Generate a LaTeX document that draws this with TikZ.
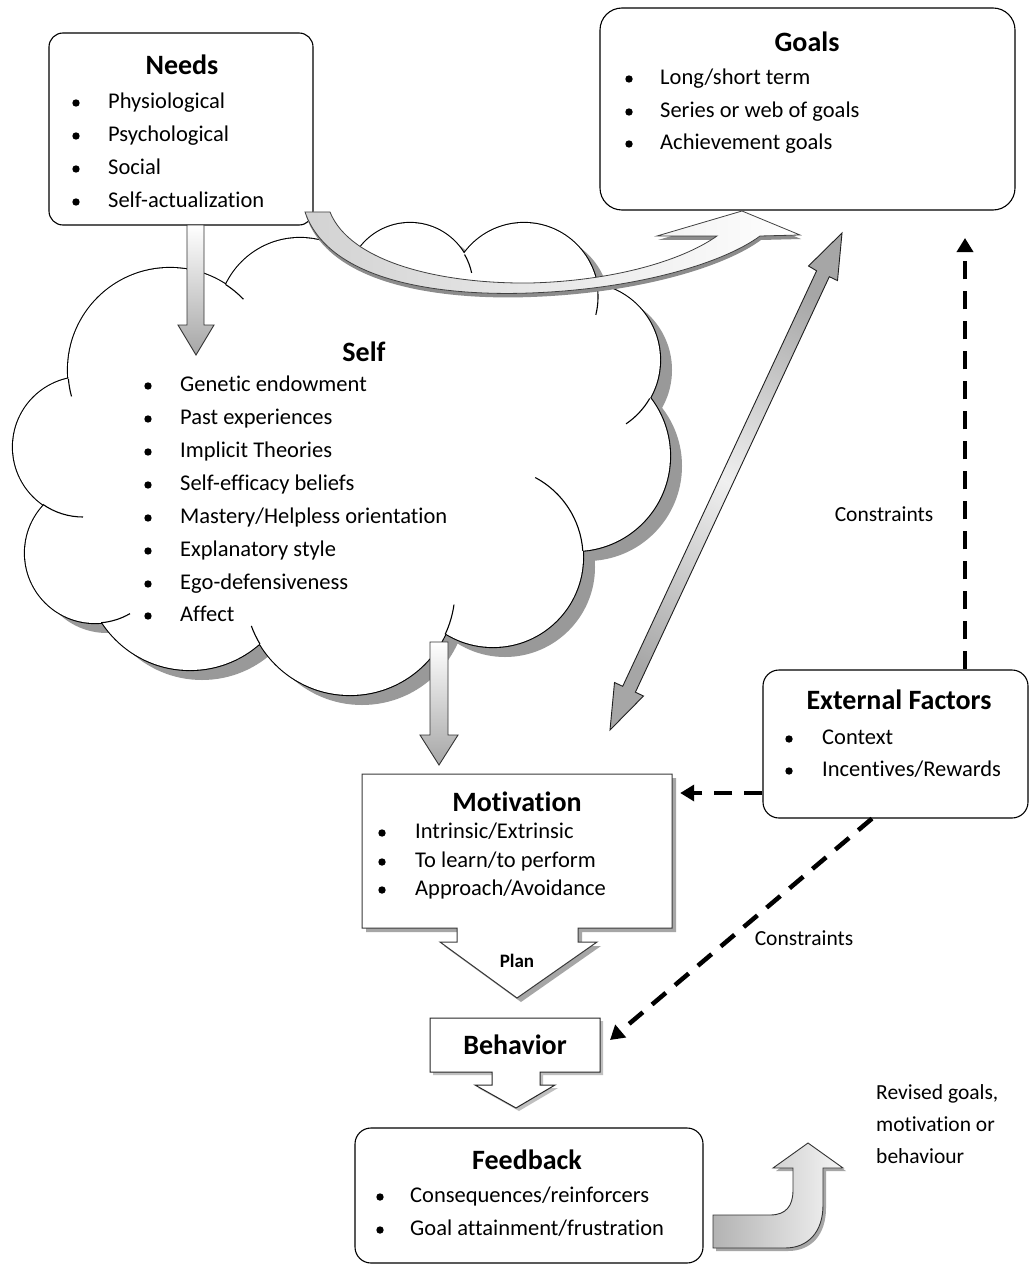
\documentclass[tikz,border=0pt]{standalone}
\usepackage{fontspec}
\setmainfont{Carlito}[Ligatures={NoCommon,NoContextual}]
\usetikzlibrary{arrows.meta}
\newcommand\cloudcircles{(83,447) circle[radius=70] (95,553) circle[radius=70] (190,565) circle[radius=105] (350,590) circle[radius=105] (493,557) circle[radius=90] (575,456) circle[radius=95] (583,360) circle[radius=77] (524,297) circle[radius=74] (410,286) circle[radius=63] (300,320) circle[radius=82] (170,370) circle[radius=102]}
\newcommand\cloudcore{(83,447) -- (95,553) -- (190,565) -- (350,590) -- (493,557) -- (575,456) -- (583,360) -- (524,297) -- (410,286) -- (300,320) -- (170,370) -- cycle}
\newcommand\ctail[5]{\draw[line width=1.1pt] (#1,#2) ++(#4:#3) arc[start angle=#4, end angle=#5, radius=#3];}
\newcommand\bitem[5]{\fill (#1,#3) circle[radius=3.7]; \node[itm] (#4) at (#2,#3) {#5};}
\newcommand\motpath{(362,774) -- (672,774) -- (672,928) -- (578,928) -- (578,942) -- (597,942) -- (517,998) -- (440,942) -- (457,942) -- (457,928) -- (362,928) -- cycle}
\newcommand\behpath{(430,1018) -- (600,1018) -- (600,1072) -- (540,1072) -- (540,1085) -- (555,1085) -- (516,1108) -- (475,1085) -- (492,1085) -- (492,1072) -- (430,1072) -- cycle}
\newcommand\goalarrow{(305,212) .. controls (330,285) and (450,296) .. (530,293) .. controls (640,289) and (725,262) .. (760,236) -- (800,235) -- (742,211) -- (657,236) -- (717,236) .. controls (680,262) and (610,281) .. (530,283) .. controls (440,284) and (350,262) .. (330,212) -- cycle}
\newcommand\revarrow{(713,1215) -- (770,1215) .. controls (786,1215) and (793,1206) .. (793,1190) -- (793,1168) -- (773,1168) -- (808,1143) -- (843,1168) -- (823,1168) -- (823,1205) .. controls (823,1232) and (808,1248) .. (785,1248) -- (713,1248) -- cycle}
\begin{document}
\begin{tikzpicture}[x=1pt,y=-1pt,
  box/.style={draw=black, line width=1.1pt, fill=white, inner sep=0},
  ttl/.style={font=\fontsize{28}{30}\selectfont\bfseries, inner sep=0},
  itm/.style={font=\fontsize{22.5}{27}\selectfont, anchor=west, inner sep=0, text height=16pt, text depth=5pt},
  lbl/.style={font=\fontsize{21.5}{27}\selectfont, inner sep=0, text height=16pt, text depth=5pt},
  dasharrow/.style={line width=4.5pt, dash pattern=on 18pt off 12pt, -{Triangle[length=14pt,width=16pt]}},
  blockarrow/.style={draw=gray!40!black, line width=0.9pt, top color=white, bottom color=gray!70},
]
\useasboundingbox (0,0) rectangle (1029,1265);
\fill[white] (0,0) rectangle (1029,1265);

% ---------- Self cloud ----------
\fill[black!40, shift={(12,10)}] \cloudcircles;
\fill[black!40, shift={(12,10)}] \cloudcore;
\draw[line width=2.2pt] \cloudcircles;
\fill[white] \cloudcircles;
\fill[white] \cloudcore;
\ctail{170}{370}{102}{-57}{-44}
\ctail{300}{320}{82}{-51}{-41}
\ctail{410}{286}{63}{-30}{-12}
\ctail{524}{297}{74}{-12}{14}
\ctail{583}{360}{77}{30}{56}
\ctail{493}{557}{90}{-4}{-62}
\ctail{350}{590}{105}{25}{8}
\ctail{350}{590}{105}{149}{160}
\ctail{83}{447}{70}{125}{90}
\ctail{95}{553}{70}{85}{60}
\ctail{170}{370}{102}{175}{165}
\node[ttl] (selfT) at (364,352) {Self};
\bitem{148}{180}{386}{s1}{Genetic endowment}
\bitem{148}{180}{419}{s2}{Past experiences}
\bitem{148}{180}{452}{s3}{Implicit Theories}
\bitem{148}{180}{485}{s4}{Self-efficacy beliefs}
\bitem{148}{180}{518}{s5}{Mastery/Helpless orientation}
\bitem{148}{180}{551}{s6}{Explanatory style}
\bitem{148}{180}{584}{s7}{Ego-defensiveness}
\bitem{148}{180}{616}{s8}{Affect}

% ---------- Needs ----------
\node[box, rounded corners=14pt, minimum width=264pt, minimum height=192pt] (needs) at (181,129) {};
\node[ttl] (needsT) at (182,65) {Needs};
\bitem{76}{108}{103}{n1}{Physiological}
\bitem{76}{108}{136}{n2}{Psychological}
\bitem{76}{108}{169}{n3}{Social}
\bitem{76}{108}{202}{n4}{Self-actualization}

% ---------- Goals ----------
\node[box, rounded corners=22pt, minimum width=415pt, minimum height=202pt] (goals) at (807.5,109) {};
\node[ttl] (goalsT) at (807,42) {Goals};
\bitem{629}{660}{79}{g1}{Long/short term}
\bitem{629}{660}{112}{g2}{Series or web of goals}
\bitem{629}{660}{144}{g3}{Achievement goals}

% ---------- block arrows ----------
\draw[blockarrow] (187,225) -- (187,325) -- (178,325) -- (196,355) -- (214,325) -- (204,325) -- (204,225) -- cycle;
\fill[black!45, shift={(1,4)}] \goalarrow;
\draw[draw=gray!50!black, line width=0.8pt, left color=gray!35, right color=white] \goalarrow;
\draw[blockarrow] (430,642) -- (430,735) -- (420,735) -- (439,765) -- (458,735) -- (448,735) -- (448,642) -- cycle;
\draw[draw=gray!25!black, line width=0.9pt, top color=gray!70, bottom color=gray!70, middle color=gray!12, shading angle=-25]
  (610,730) -- (643.5,696.0) -- (635.4,692.2) -- (829.3,276.7) -- (837.5,280.6) -- (842,233)
  -- (808.5,266.0) -- (816.6,270.8) -- (622.7,686.3) -- (614.5,682.5) -- cycle;

% ---------- Motivation ----------
\fill[black!35, shift={(4,4)}] \motpath;
\draw[draw=gray!45!black, line width=1pt, fill=white] \motpath;
\node[inner sep=0, minimum width=310pt, minimum height=154pt] (mot) at (517,851) {};
\node[ttl] (motT) at (517,802) {Motivation};
\bitem{382}{415}{833}{m1}{Intrinsic/Extrinsic}
\bitem{382}{415}{862}{m2}{To learn/to perform}
\bitem{382}{415}{890}{m3}{Approach/Avoidance}
\node[font=\fontsize{19}{22}\selectfont\bfseries, inner sep=0] (plan) at (517,961) {Plan};

% ---------- Behavior ----------
\fill[black!25, shift={(3,3)}] \behpath;
\draw[draw=black!85, line width=1pt, fill=white] \behpath;
\node[inner sep=0, minimum width=170pt, minimum height=54pt] (beh) at (515,1045) {};
\node[ttl] (behT) at (515,1045) {Behavior};

% ---------- External Factors ----------
\node[box, rounded corners=16pt, minimum width=265pt, minimum height=148pt] (ext) at (895.5,744) {};
\node[ttl] (extT) at (899,700) {External Factors};
\bitem{789}{822}{739}{e1}{Context}
\bitem{789}{822}{771}{e2}{Incentives/Rewards}

% ---------- Feedback ----------
\node[box, rounded corners=16pt, minimum width=348pt, minimum height=135pt] (fb) at (529,1195.5) {};
\node[ttl] (fbT) at (527,1160) {Feedback};
\bitem{380}{410}{1197}{f1}{Consequences/reinforcers}
\bitem{380}{410}{1230}{f2}{Goal attainment/frustration}

% ---------- revised arrow ----------
\fill[black!35, shift={(3,3)}] \revarrow;
\draw[draw=gray!40!black, line width=0.9pt, left color=gray!60, right color=gray!8] \revarrow;
\node[lbl, anchor=west] (r1) at (876,1094) {Revised goals,};
\node[lbl, anchor=west] (r2) at (876,1126) {motivation or};
\node[lbl, anchor=west] (r3) at (876,1158) {behaviour};

% ---------- dashed connectors ----------
\coordinate (vtip) at (965,238);
\coordinate (hline) at (0,793);
\coordinate (dtip) at (610,1040);
\draw[dasharrow] ([xshift=69.5pt]ext.north) -- ([xshift=69.5pt]ext.north |- vtip);
\draw[dasharrow] (ext.west |- hline) -- ([xshift=8pt]mot.east |- hline);
\draw[dasharrow] ([xshift=-23.5pt]ext.south) -- (dtip);
\node[lbl] (c1) at (884,516) {Constraints};
\node[lbl] (c2) at (804,940) {Constraints};
\end{tikzpicture}
\end{document}
